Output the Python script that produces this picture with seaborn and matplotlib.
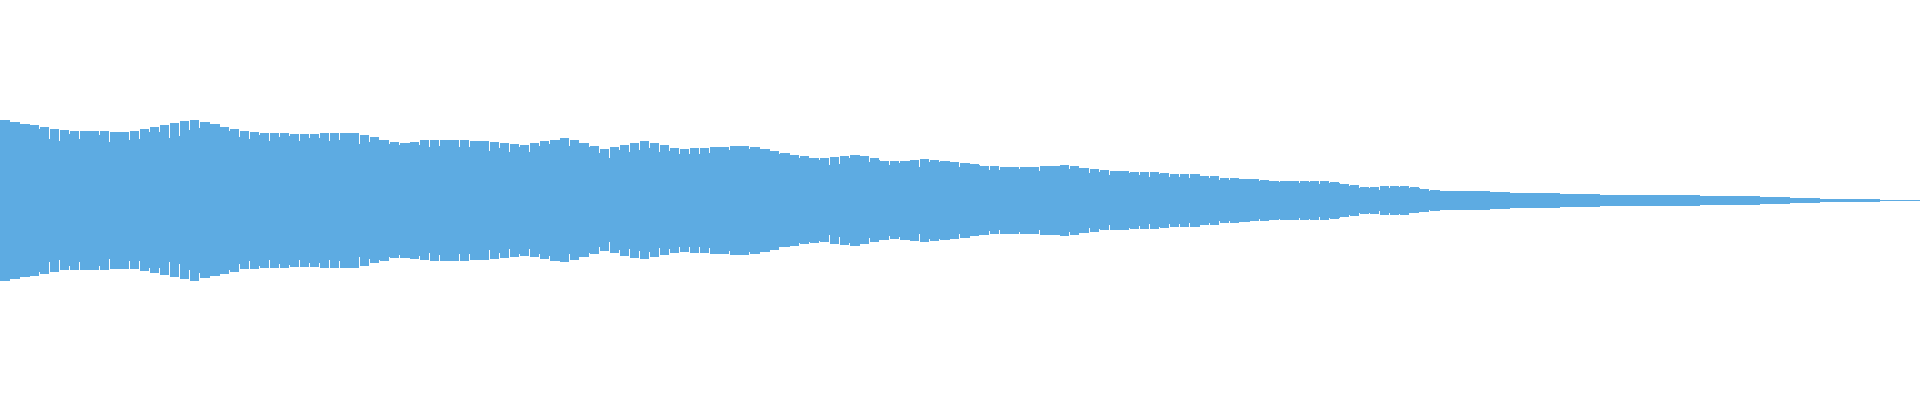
import numpy as np
import matplotlib.pyplot as plt
import seaborn as sns

# peak half-height of each waveform bar, in pixels of a 400 px tall plot
peaks_px = [
    80.5, 78.5, 76.5, 75.5, 73.5, 71.5, 70, 69.5, 69.5, 69.5,
    69.5, 68.5, 68.5, 69, 71, 73, 75, 77, 79, 80.5,
    78, 76, 73.5, 71.5, 69, 68.5, 67.5, 67.5, 67.5, 66.5,
    66.5, 66.5, 67.5, 67.5, 67.5, 67.5, 65.5, 63, 60.5, 58,
    57.5, 58.5, 60, 60.5, 60.5, 60.5, 60.5, 59.5, 59.5, 58.5,
    57.5, 56.5, 55.5, 57, 59, 60.5, 62, 60, 57, 54,
    51, 53, 55.5, 57.5, 59, 57, 54.7, 52.5, 51.5, 52.5,
    52.5, 53.5, 53.5, 54.5, 54.5, 53.5, 51.5, 49.5, 47, 45.5,
    44, 42.5, 42, 43.5, 44.5, 45.5, 44, 42, 39.5, 39,
    39.5, 40.5, 41.5, 40.5, 39.5, 38.5, 37.5, 36, 34.5, 34,
    33.5, 33.5, 33.5, 33.5, 34.5, 34.5, 35.5, 34.5, 32.5, 31.5,
    30, 29.5, 29.5, 28.5, 28.5, 28.5, 27.5, 26.5, 26.5, 26.5,
    24.5, 24.5, 22.5, 22.5, 21.5, 21, 20.5, 19.5, 19.5, 19.5,
    19.5, 19.5, 19.5, 18.5, 16.5, 15.5, 13.5, 13.5, 14.5, 14.5,
    14.5, 13, 11.5, 10.5, 9.5, 9.5, 9.5, 9.5, 9.5, 8.5,
    8.5, 7.5, 7.5, 7.5, 7.5, 7.5, 6.5, 6.5, 6.5, 6.5,
    5.5, 5.5, 5.5, 5.5, 5.5, 5.5, 5.5, 5.5, 5.5, 5.5,
    4.5, 4.5, 4.5, 4.5, 4.5, 4.5, 3.5, 3.5, 3.5, 2.5,
    2.5, 2.5, 1.5, 1.5, 1.5, 1.5, 1.5, 1.5, 0.5, 0.5,
    0.5, 0.5,
]
# how far the thin gap after each bar reaches into the waveform (pixels)
gap_px = [
    0, 0, 0, 4, 12, 12, 4, 8, 0, 4,
    11, 0, 8, 8, 3, 5, 13, 13, 9, 8,
    0, 0, 4, 8, 8, 3, 8, 4, 3, 7,
    4, 4, 8, 7, 0, 11, 7, 3, 4, 3,
    0, 3, 7, 6, 0, 7, 7, 0, 10, 6,
    9, 3, 7, 3, 3, 0, 8, 3, 4, 7,
    9, 3, 7, 7, 7, 9, 6, 6, 5, 6,
    5, 0, 3, 0, 3, 0, 0, 3, 0, 3,
    2, 2, 7, 7, 2, 0, 6, 2, 4, 2,
    0, 7, 3, 2, 0, 5, 0, 1, 4, 4,
    0, 2, 0, 4, 0, 0, 4, 2, 5, 3,
    5, 0, 2, 3, 5, 2, 4, 3, 4, 0,
    2, 4, 2, 1, 0, 2, 1, 1, 0, 2,
    1, 3, 2, 1, 2, 3, 1, 3, 2, 1,
    2, 1, 2,
] + [0] * 49

peaks = np.array(peaks_px) / 200.0
body = (np.array(peaks_px) - np.array(gap_px)) / 200.0
bars = np.arange(len(peaks))

sns.set_style("white")
fig = plt.figure(figsize=(19.2, 4), dpi=100)
ax = fig.add_axes([0, 0, 1, 1])

colour = "#5dabe2"
# solid body of the waveform
for sign in (1, -1):
    sns.barplot(x=bars, y=sign * body, color=colour, width=1, linewidth=0,
                saturation=1, native_scale=True, ax=ax)
# peak bars, with a one pixel gap after each
for sign in (1, -1):
    sns.barplot(x=bars - 0.05, y=sign * peaks, color=colour, width=0.9,
                linewidth=0, saturation=1, native_scale=True, ax=ax)

ax.set_xlim(-0.5, len(peaks) - 0.5)
ax.set_ylim(-1, 1)
ax.axis("off")

fig.savefig("out.png", dpi=100, facecolor="white")
